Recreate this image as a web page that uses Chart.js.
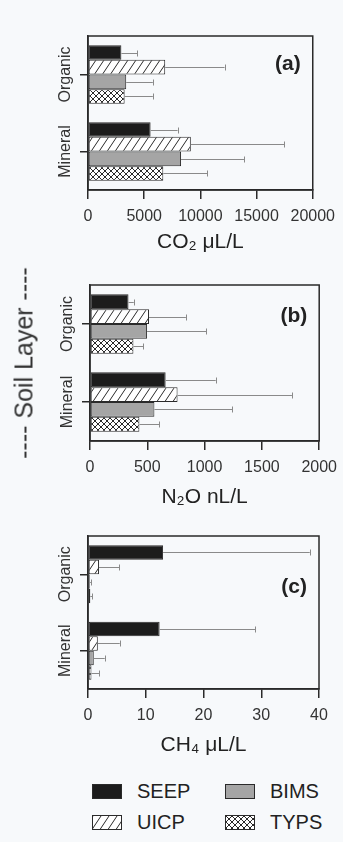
<!DOCTYPE html>
<html lang="en">
<head>
<meta charset="UTF-8">
<title>Soil gas by layer and site</title>
<script src="https://cdn.jsdelivr.net/npm/chart.js"></script>
<style>
  body { margin: 0; background: #f7f9fb; font-family: "Liberation Sans", Arial, sans-serif; }
  #page { position: relative; width: 343px; height: 842px; overflow: hidden; }
  .panel { position: absolute; left: 0; top: 0; }
  #soil {
    position: absolute; left: 24px; top: 363px;
    transform: translate(-50%, -50%) rotate(-90deg);
    white-space: nowrap; font-size: 25px; color: #333;
  }
  #legend {
    position: absolute; left: 92px; top: 776px;
    display: grid; grid-template-columns: 133px auto; grid-template-rows: 31px 31px;
    grid-auto-flow: column; font-size: 20px; color: #222;
  }
  .item { display: flex; align-items: center; }
  .sw { width: 28px; height: 13px; border: 1px solid #2a2a2a; margin-right: 15px; }
</style>
</head>
<body>
<div id="page">
  <canvas id="co2" class="panel" width="343" height="262"></canvas>
  <canvas id="n2o" class="panel" width="343" height="262" style="top:250px;left:2px"></canvas>
  <canvas id="ch4" class="panel" width="343" height="262" style="top:500px"></canvas>
  <div id="soil">---- Soil Layer ----</div>
  <div id="legend"></div>
</div>

<script>
const layers = ['Organic', 'Mineral'];
const sites = ['SEEP', 'UICP', 'BIMS', 'TYPS'];

// one row per site (SEEP, UICP, BIMS, TYPS), columns are [Organic, Mineral]
const co2Mean = [[2970, 5570], [6870, 9150], [3400, 8280], [3260, 6700]];
const co2Err  = [[1420, 2400], [5280, 8310], [2370, 5600], [2510, 3920]];
const co2Ticks = [0, 5000, 10000, 15000, 20000];

const n2oMean = [[336, 660], [515, 764], [498, 562], [379, 431]];
const n2oErr  = [[46, 437], [322, 998], [518, 679], [87, 174]];
const n2oTicks = [0, 500, 1000, 1500, 2000];

const ch4Mean = [[13.0, 12.4], [1.9, 1.7], [0.3, 1.0], [0.4, 0.6]];
const ch4Err  = [[25.4, 16.6], [3.5, 3.8], [0.2, 1.9], [0.3, 1.3]];
const ch4Ticks = [0, 10, 20, 30, 40];

Chart.defaults.font.family = '"Liberation Sans", Arial, sans-serif';
Chart.defaults.color = '#333';

// small tiles used as canvas patterns for the hatched bars
function tile(kind) {
  const c = document.createElement('canvas');
  const w = kind === 'diag' ? 8 : 6, h = kind === 'diag' ? 12 : 6;
  c.width = w; c.height = h;
  const g = c.getContext('2d');
  g.fillStyle = '#fff';
  g.fillRect(0, 0, w, h);
  g.strokeStyle = '#2a2a2a';
  g.lineWidth = 1;
  g.beginPath();
  for (const x0 of [-w, 0, w]) {
    g.moveTo(x0, h); g.lineTo(x0 + w, 0);
    if (kind === 'cross') { g.moveTo(x0, 0); g.lineTo(x0 + w, h); }
  }
  g.stroke();
  return c;
}
const diagTile = tile('diag');
const crossTile = tile('cross');
const ctx0 = document.createElement('canvas').getContext('2d');
const fills = ['#1c1c1c', ctx0.createPattern(diagTile, 'repeat'), '#a5a5a5', ctx0.createPattern(crossTile, 'repeat')];
const swatchCss = ['#1c1c1c', `url(${diagTile.toDataURL()})`, '#a5a5a5', `url(${crossTile.toDataURL()})`];

const frame = {
  id: 'frame',
  afterDraw(chart) {
    const {ctx, chartArea: a} = chart;
    ctx.save();
    ctx.strokeStyle = '#2a2a2a';
    ctx.lineWidth = 1.5;
    ctx.strokeRect(a.left, a.top, a.width, a.height);
    ctx.restore();
  }
};

// one-sided error bars from the bar end to mean + error
const errorBars = {
  id: 'errorBars',
  afterDatasetsDraw(chart) {
    const {ctx, scales: {x}} = chart;
    ctx.save();
    ctx.strokeStyle = '#8a8a8a';
    ctx.lineWidth = 1;
    chart.data.datasets.forEach((ds, i) => {
      chart.getDatasetMeta(i).data.forEach((bar, j) => {
        const end = x.getPixelForValue(ds.data[j] + ds.errors[j]);
        const y = Math.round(bar.y) + 0.5;
        ctx.beginPath();
        ctx.moveTo(bar.x, y); ctx.lineTo(end, y);
        ctx.moveTo(Math.round(end) + 0.5, y - 3); ctx.lineTo(Math.round(end) + 0.5, y + 3);
        ctx.stroke();
      });
    });
    ctx.restore();
  }
};

const panelTag = {
  id: 'panelTag',
  afterDraw(chart, args, opts) {
    const {ctx, chartArea: a} = chart;
    ctx.save();
    ctx.font = 'bold 21px "Liberation Sans", Arial, sans-serif';
    ctx.fillStyle = '#222';
    ctx.textAlign = 'right';
    ctx.textBaseline = 'middle';
    ctx.fillText(opts.text, a.right - 12, a.top + opts.dy);
    ctx.restore();
  }
};

function makePanel(id, means, errs, ticks, title, tag, box) {
  new Chart(document.getElementById(id), {
    type: 'bar',
    data: {
      labels: layers,
      datasets: sites.map((s, i) => ({
        label: s,
        data: means[i],
        errors: errs[i],
        backgroundColor: fills[i],
        borderColor: '#2a2a2a',
        borderWidth: 1,
        borderSkipped: false,
        categoryPercentage: 0.76,
        barPercentage: 1
      }))
    },
    options: {
      indexAxis: 'y',
      responsive: false,
      animation: false,
      layout: { padding: { top: box.top, right: 24, left: 0, bottom: 0 } },
      plugins: {
        legend: { display: false },
        tooltip: { enabled: false },
        panelTag: { text: tag, dy: box.tagY }
      },
      scales: {
        x: {
          min: ticks[0],
          max: ticks[ticks.length - 1],
          ticks: {
            stepSize: ticks[1] - ticks[0], padding: 8, color: '#333', font: { size: 16 },
            callback: v => String(v)
          },
          grid: { drawOnChartArea: false, tickLength: 9, color: '#2a2a2a', lineWidth: 1.5 },
          border: { color: '#2a2a2a', width: 1.5 },
          title: { display: true, text: title, color: '#222', font: { size: 21 }, padding: { top: 0, bottom: box.titlePad } },
          afterFit: s => { s.height = 262 - box.bottom; }
        },
        y: {
          ticks: { minRotation: 90, maxRotation: 90, crossAlign: 'center', padding: -14, color: '#333', font: { size: 16 } },
          grid: { offset: false, drawOnChartArea: false, tickLength: 8, color: '#2a2a2a', lineWidth: 1.5 },
          border: { color: '#2a2a2a', width: 1.5 },
          afterFit: s => { s.width = 88; }
        }
      }
    },
    plugins: [errorBars, frame, panelTag]
  });
}

makePanel('co2', co2Mean, co2Err, co2Ticks, 'CO\u2082 \u03bcL/L', '(a)', { top: 36, bottom: 190, titlePad: 7, tagY: 28 });
makePanel('n2o', n2oMean, n2oErr, n2oTicks, 'N\u2082O nL/L', '(b)', { top: 35, bottom: 191, titlePad: 2, tagY: 31 });
makePanel('ch4', ch4Mean, ch4Err, ch4Ticks, 'CH\u2084 \u03bcL/L', '(c)', { top: 36, bottom: 189, titlePad: 4, tagY: 51 });

// legend in two columns: SEEP / UICP, then BIMS / TYPS
const legend = document.getElementById('legend');
sites.forEach((s, i) => {
  const item = document.createElement('div');
  item.className = 'item';
  const sw = document.createElement('span');
  sw.className = 'sw';
  sw.style.background = swatchCss[i];
  item.appendChild(sw);
  item.appendChild(document.createTextNode(s));
  legend.appendChild(item);
});
</script>
</body>
</html>
